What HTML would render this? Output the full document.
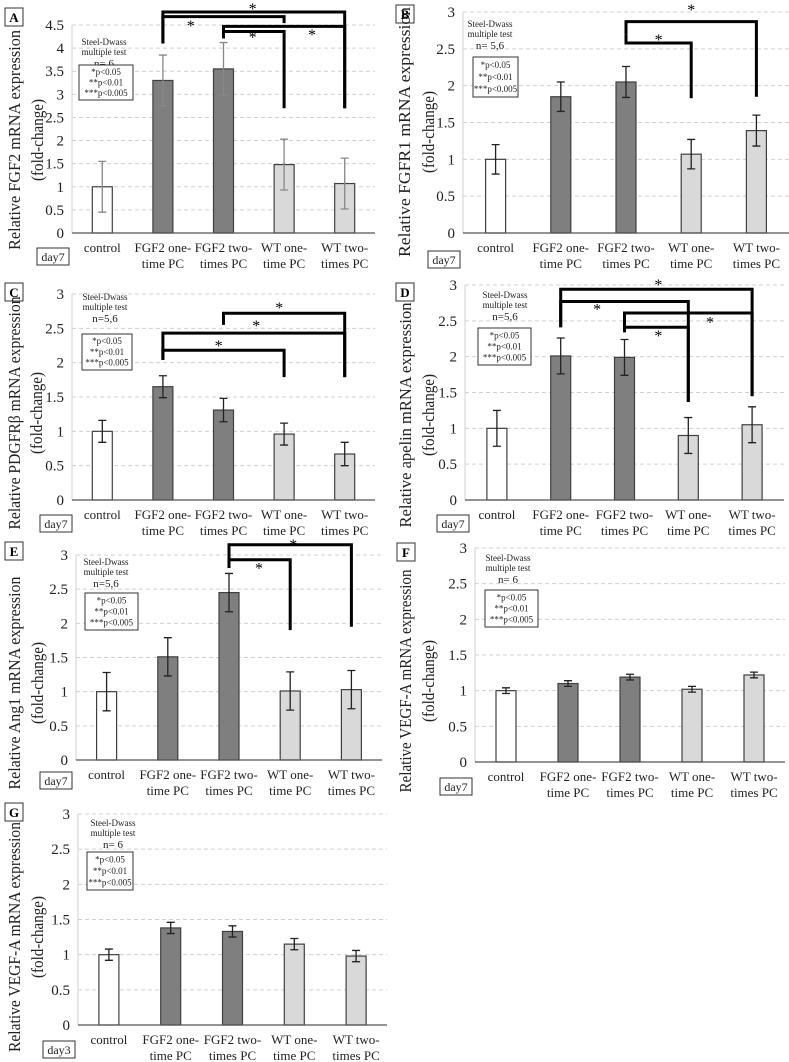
<!DOCTYPE html>
<html><head><meta charset="utf-8">
<style>
html,body{margin:0;padding:0;background:#fff;}
svg{display:block;font-family:"Liberation Serif","Times New Roman",serif;}
</style></head>
<body>
<svg id="fig" width="789" height="1062" viewBox="0 0 789 1062"></svg>
<script>
const categories = [["control",""],["FGF2 one-","time PC"],["FGF2 two-","times PC"],["WT one-","time PC"],["WT two-","times PC"]];
const ticksA = [0,0.5,1,1.5,2,2.5,3,3.5,4,4.5];
const ticks3 = [0,0.5,1,1.5,2,2.5,3];
const valuesA = [1,3.3,3.55,1.48,1.07];
const errA = [0.55,0.55,0.57,0.55,0.55];
const valuesB = [1,1.85,2.05,1.07,1.39];
const errB = [0.2,0.2,0.21,0.2,0.21];
const valuesC = [1,1.65,1.31,0.96,0.67];
const errC = [0.16,0.16,0.17,0.16,0.17];
const valuesD = [1,2.01,1.99,0.9,1.05];
const errD = [0.25,0.25,0.25,0.25,0.25];
const valuesE = [1,1.51,2.45,1.01,1.03];
const errE = [0.28,0.28,0.28,0.28,0.28];
const valuesF = [1,1.1,1.19,1.02,1.22];
const errF = [0.04,0.04,0.04,0.04,0.04];
const valuesG = [1,1.38,1.33,1.15,0.98];
const errG = [0.08,0.08,0.08,0.08,0.08];
// brackets: [fromIdx, toIdx, topValue, leftBottomValue, rightBottomValue]
const bracketsA = [[1,4,4.78,4.1,2.7],[1,3,4.68,4.1,4.54],[2,4,4.47,4.21,2.7],[2,3,4.36,4.21,2.7]];
const starsA = [[2.48,4.91],[1.46,4.54],[3.46,4.35],[2.48,4.29]];
const bracketsB = [[2,4,2.87,2.69,1.85],[2,3,2.58,2.69,1.83]];
const starsB = [[3,3.07],[2.5,2.66]];
const bracketsC = [[2,4,2.72,2.55,1.79],[1,4,2.43,2.04,1.79],[1,3,2.18,2.04,1.79]];
const starsC = [[2.92,2.84],[2.54,2.58],[1.92,2.29]];
const bracketsD = [[1,4,2.94,2.41,1.45],[1,3,2.77,2.41,1.37],[2,4,2.61,2.34,1.45],[2,3,2.41,2.34,1.37]];
const starsD = [[2.53,3.04],[1.57,2.7],[3.34,2.52],[2.53,2.33]];
const bracketsE = [[2,4,3.15,2.81,1.95],[2,3,2.93,2.81,1.9]];
const starsE = [[3.05,3.19],[2.49,2.85]];
const bracketsF = [];
const starsF = [];
const bracketsG = [];
const starsG = [];

const panels = [
 {id:'A',gene:'FGF2',n:'n= 6',day:'day7',vals:valuesA,err:errA,ticks:ticksA,ymax:4.5,br:bracketsA,st:starsA,x0:72,x1:375,yT:25,yB:233,
  letter:[5,8],dayBox:[37,248],title:[14,37,140,220],leg:[104,42,79,65,133,100]},
 {id:'B',gene:'FGFR1',n:'n= 5,6',day:'day7',vals:valuesB,err:errB,ticks:ticks3,ymax:3,br:bracketsB,st:starsB,x0:463,x1:789,yT:12,yB:233,
  letter:[396,5],dayBox:[428,251],title:[404,428,132,250],leg:[490,24,473,57,518,97]},
 {id:'C',gene:'PDGFR\u03b2',n:'n=5,6',day:'day7',vals:valuesC,err:errC,ticks:ticks3,ymax:3,br:bracketsC,st:starsC,x0:72,x1:375,yT:294,yB:500,
  letter:[5,283],dayBox:[40,515],title:[14,36,413,233],leg:[105,297,82,334,132,370]},
 {id:'D',gene:'apelin',n:'n=5,6',day:'day7',vals:valuesD,err:errD,ticks:ticks3,ymax:3,br:bracketsD,st:starsD,x0:465,x1:784,yT:285,yB:500,
  letter:[396,283],dayBox:[437,515],title:[405,428,415,225],leg:[505,295,478,328,531,365]},
 {id:'E',gene:'Ang1',n:'n=5,6',day:'day7',vals:valuesE,err:errE,ticks:ticks3,ymax:3,br:bracketsE,st:starsE,x0:76,x1:382,yT:555,yB:760,
  letter:[5,542],dayBox:[40,772],title:[14,37,683,213],leg:[106,562,85,593,138,630]},
 {id:'F',gene:'VEGF-A',n:'n= 6',day:'day7',vals:valuesF,err:errF,ticks:ticks3,ymax:3,br:bracketsF,st:starsF,x0:475,x1:785,yT:548,yB:762,
  letter:[397,543],dayBox:[440,778],title:[405,428,681,223],leg:[508,558,485,590,538,627]},
 {id:'G',gene:'VEGF-A',n:'n= 6',day:'day3',vals:valuesG,err:errG,ticks:ticks3,ymax:3,br:bracketsG,st:starsG,x0:78,x1:387,yT:814,yB:1025,
  letter:[5,803],dayBox:[43,1041],title:[14,37,937,230],leg:[113,823,87,852,133,890]}
];
const fills = ['#ffffff','#7f7f7f','#7f7f7f','#d9d9d9','#d9d9d9'];
const NS='http://www.w3.org/2000/svg';
const svg=document.getElementById('fig');
function mk(tag,attrs,parent,txt){const e=document.createElementNS(NS,tag);for(const k in attrs)e.setAttribute(k,attrs[k]);if(txt!==undefined)e.textContent=txt;parent.appendChild(e);return e;}

panels.forEach(p=>{
  const g=mk('g',{},svg);
  
  
  const band=(p.x1-p.x0)/categories.length;
  const X=i=>p.x0+band*(i+0.5);
  const Y=v=>p.yB-(v/p.ymax)*(p.yB-p.yT);
  p.ticks.forEach(t=>{
    if(t>0){const l=mk('line',{x1:p.x0,x2:p.x1,y1:Y(t),y2:Y(t),stroke:'#d0d0d0','stroke-width':1,'stroke-dasharray':'4,3'},g);
      }
    const tx=mk('text',{x:p.x0-8,y:Y(t)+5,'text-anchor':'end','font-size':15,fill:'#222'},g,String(t));
    
  });
  const ya=mk('line',{x1:p.x0,x2:p.x0,y1:p.yT,y2:p.yB,stroke:'#d0d0d0','stroke-width':1},g);
  
  p.vals.forEach((v,i)=>{
    const bw=20;
    const r=mk('rect',{x:X(i)-bw/2,y:Y(v),width:bw,height:p.yB-Y(v),fill:fills[i],stroke:'#404040','stroke-width':1.2},g);
    
    
    const e=p.err[i];const ec=p.id==='A'?'#888':'#222';
    const eb=mk('path',{d:`M${X(i)},${Y(v+e)}V${Y(v-e)}M${X(i)-4},${Y(v+e)}h8M${X(i)-4},${Y(v-e)}h8`,stroke:ec,'stroke-width':1.3,fill:'none'},g);
    
    const c=categories[i];
    const t1=mk('text',{x:X(i),y:p.yB+19,'text-anchor':'middle','font-size':13,fill:'#222'},g,c[0]);
    
    if(c[1]){const t2=mk('text',{x:X(i),y:p.yB+35,'text-anchor':'middle','font-size':13,fill:'#222'},g,c[1]);
      }
  });
  const xa=mk('line',{x1:p.x0,x2:p.x1,y1:p.yB,y2:p.yB,stroke:'#555','stroke-width':1.2},g);
  
  p.br.forEach(b=>{
    const xa1=X(b[0]),xb=X(b[1]);
    const pth=mk('path',{d:`M${xa1},${Y(b[3])}V${Y(b[2])}H${xb}V${Y(b[4])}`,stroke:'#000','stroke-width':3,fill:'none'},g);
    
  });
  p.st.forEach(s=>{
    const t=mk('text',{x:X(s[0]),y:Y(s[1])+8,'text-anchor':'middle','font-size':16,fill:'#000'},g,'*');
    
  });
  const L=p.leg;
  const l1=mk('text',{x:L[0],y:L[1]+3,'text-anchor':'middle','font-size':9,fill:'#222'},g,'Steel-Dwass');
  
  const l2=mk('text',{x:L[0],y:L[1]+13,'text-anchor':'middle','font-size':9,fill:'#222'},g,'multiple test');
  
  const l3=mk('text',{x:L[0],y:L[1]+25,'text-anchor':'middle','font-size':11,fill:'#222'},g,p.n);
  
  const lb=mk('rect',{x:L[2],y:L[3],width:L[4]-L[2],height:L[5]-L[3],fill:'#fff',stroke:'#333','stroke-width':1},g);
  
  const h=(L[5]-L[3]);
  ['*p<0.05','**p<0.01','***p<0.005'].forEach((s,k)=>{
    const t=mk('text',{x:(L[2]+L[4])/2,y:L[3]+h*(0.28+0.3*k),'text-anchor':'middle','font-size':9,fill:'#222'},g,s);
    
  });
  const lr=mk('rect',{x:p.letter[0],y:p.letter[1],width:18,height:18,fill:'#fff',stroke:'#333','stroke-width':1},g);
  
  const lt=mk('text',{x:p.letter[0]+9,y:p.letter[1]+14,'text-anchor':'middle','font-size':13,'font-weight':'bold',fill:'#000'},g,p.id);
  
  const dr=mk('rect',{x:p.dayBox[0],y:p.dayBox[1],width:32,height:17,fill:'#fff',stroke:'#333','stroke-width':1},g);
  
  const dt=mk('text',{x:p.dayBox[0]+16,y:p.dayBox[1]+13,'text-anchor':'middle','font-size':12,fill:'#222'},g,p.day);
  
  const T=p.title;
  const y1=mk('text',{x:0,y:0,'text-anchor':'middle','font-size':17,fill:'#222',textLength:T[3],lengthAdjust:'spacingAndGlyphs',transform:`translate(${T[0]+6},${T[2]}) rotate(-90)`},g,'Relative '+p.gene+' mRNA  expression');
  
  const y2=mk('text',{x:0,y:0,'text-anchor':'middle','font-size':17,fill:'#222',textLength:82,lengthAdjust:'spacingAndGlyphs',transform:`translate(${T[1]+6},${T[2]}) rotate(-90)`},g,'(fold-change)');
  
});
</script>
</body></html>
